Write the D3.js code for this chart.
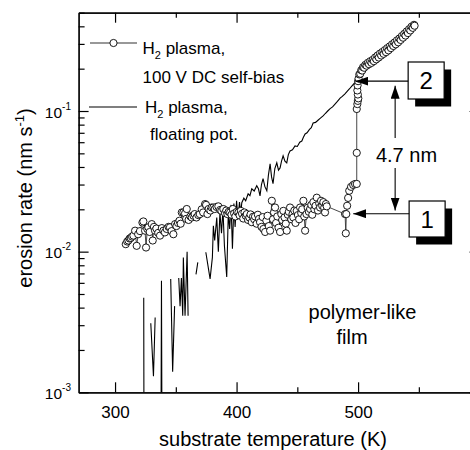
<!DOCTYPE html>
<html>
<head>
<meta charset="utf-8">
<script src="https://cdn.jsdelivr.net/npm/d3@7"></script>
<style>
html, body { margin: 0; padding: 0; background: #fff; }
svg { display: block; font-family: "Liberation Sans", Arial, sans-serif; }
</style>
</head>
<body>
<script>
'use strict';

// floating potential run (solid line), null marks a gap (rate <= 0, no log value)
const floatT = [
	323.6, 323.8, null,
	329.4, 331.6, 333.0, null,
	337.8, 338.2, 338.6, null,
	345.8, 347.4, 349.0, null,
	352.4, 353.5, 354.6, 355.7, 356.2, 357.6, 359.3, 360.1, null,
	366.6, 368.1, null,
	374.7, 378.2, 380.1, 380.9, 382.0, 383.7, 385.0, 386.3, 387.6, 388.8,
	390.0, 391.9, 393.2, 394.3, 395.5, 396.6, 397.8, 398.8, 400.0, 401.2,
	402.4, 403.5, 404.3, 406.0, 407.5, 409.5, 411.0, 412.5, 414.5, 416.6,
	418.0, 419.3, 420.5, 421.8, 423.3, 424.9, 426.2, 427.6, 428.8, 430.0,
	431.5, 433.1, 434.5, 435.8, 437.0, 438.3, 439.8, 441.3, 442.6, 444.0,
	446.0, 448.1, 450.0, 452.0, 453.7, 455.0, 456.4, 458.0, 460.0, 461.5,
	463.0, 465.0, 467.0, 469.0, 471.2, 473.0, 475.0, 477.0, 479.0, 481.0,
	483.0, 485.2, 487.0, 489.0, 491.0, 493.0, 495.0, 497.5, 500.0, 503.0,
	506.0, 509.0, 512.0, 515.0, 518.0, 521.0, 524.0, 527.0, 530.0, 533.0,
	536.0, 539.0, 542.0, 545.0
];
const floatRate = [
	0.0047, 0.0005, null,
	0.0031, 0.0013, 0.0034, null,
	0.0005, 0.0062, 0.0005, null,
	0.0064, 0.0014, 0.0041, null,
	0.0065, 0.0041, 0.0065, 0.0035, 0.0091, 0.0035, 0.0100, 0.0035, null,
	0.0069, 0.0084, null,
	0.0099, 0.0064, 0.0091, 0.0153, 0.0120, 0.0175, 0.0100, 0.0190, 0.0135, 0.0200,
	0.0110, 0.0066, 0.0190, 0.0145, 0.0215, 0.0105, 0.0220, 0.0150, 0.0230, 0.0170,
	0.0225, 0.0190, 0.0223, 0.0240, 0.0230, 0.0258, 0.0250, 0.0280, 0.0270, 0.0294,
	0.0280, 0.0249, 0.0300, 0.0330, 0.0290, 0.0271, 0.0350, 0.0421, 0.0340, 0.0304,
	0.0390, 0.0428, 0.0380, 0.0394, 0.0440, 0.0480, 0.0440, 0.0428, 0.0490, 0.0520,
	0.0530, 0.0565, 0.0560, 0.0600, 0.0612, 0.0650, 0.0687, 0.0700, 0.0740, 0.0760,
	0.0822, 0.0830, 0.0860, 0.0890, 0.0922, 0.0960, 0.1000, 0.1040, 0.1070, 0.1120,
	0.1170, 0.1236, 0.1270, 0.1320, 0.1380, 0.1440, 0.1510, 0.1600, 0.1700, 0.1850,
	0.2000, 0.2120, 0.2250, 0.2380, 0.2500, 0.2620, 0.2750, 0.2880, 0.3020, 0.3180,
	0.3350, 0.3520, 0.3720, 0.3950
];

// 100 V DC self-bias run (thin line + open circles)
const biasT = [
	308.8, 310.0, 311.0, 312.0, 312.9, 314.0, 315.1, 316.5, 317.8, 319.0,
	320.5, 322.5, 323.3, 324.7, 325.5, 326.5, 327.4, 328.5, 330.2, 331.0,
	332.0, 332.9, 334.0, 335.5, 337.0, 338.5, 339.8, 341.0, 342.5, 344.0,
	345.2, 346.5, 348.0, 349.4, 350.5, 351.8, 353.0, 354.0, 354.9, 356.2,
	357.6, 358.5, 359.0, 360.5, 362.0, 363.1, 364.5, 365.5, 367.0, 368.5,
	369.7, 371.3, 372.5, 374.1, 374.9, 376.0, 377.0, 378.5, 379.5, 380.9,
	382.0, 383.5, 385.0, 386.5, 387.5, 389.1, 390.5, 391.5, 392.5, 393.5,
	394.7, 395.8, 396.9, 398.0, 399.0, 400.2, 401.5, 402.5, 403.5, 404.5,
	405.5, 406.5, 407.5, 408.4, 409.5, 410.5, 411.5, 412.5, 413.5, 414.5,
	415.2, 416.5, 417.5, 418.5, 419.3, 420.5, 421.5, 422.1, 423.5, 424.5,
	425.5, 426.5, 427.6, 429.0, 430.0, 430.8, 431.7, 432.5, 433.5, 434.5,
	435.8, 436.8, 437.5, 438.5, 439.5, 440.5, 441.3, 442.2, 443.0, 444.0,
	445.0, 446.0, 446.7, 447.5, 448.5, 449.5, 450.5, 451.5, 452.3, 453.2,
	454.0, 455.0, 455.7, 456.4, 457.5, 458.5, 459.5, 460.5, 461.5, 462.3,
	463.2, 464.0, 465.0, 466.0, 467.0, 468.0, 468.7, 469.5, 470.5, 471.4,
	472.1, 472.8, 473.5, 474.2, 489.3, 489.9, 490.3, 491.0, 491.8, 492.7,
	494.2, 496.0, 497.5, 498.9, 498.9, 498.9, 499.4, 499.8, 500.2, 499.8,
	499.4, 499.6, 500.0, 500.4, 501.0, 501.8, 502.6, 503.4, 504.1, 505.0,
	506.0, 507.0, 508.0, 509.0, 510.0, 511.0, 512.0, 513.0, 514.0, 515.0,
	516.0, 517.0, 518.0, 519.0, 520.0, 521.0, 522.0, 523.0, 524.0, 525.0,
	526.0, 527.0, 528.0, 529.0, 530.0, 531.0, 532.0, 533.0, 534.0, 535.0,
	536.0, 537.0, 538.0, 539.0, 540.0, 541.0, 542.0, 543.0, 544.0, 545.0,
	546.0, 546.5
];
const biasRate = [
	0.0113, 0.0118, 0.0120, 0.0124, 0.0125, 0.0128, 0.0130, 0.0141, 0.0110, 0.0133,
	0.0140, 0.0161, 0.0164, 0.0141, 0.0107, 0.0145, 0.0149, 0.0138, 0.0157, 0.0120,
	0.0150, 0.0141, 0.0146, 0.0136, 0.0130, 0.0147, 0.0141, 0.0137, 0.0145, 0.0150,
	0.0149, 0.0140, 0.0133, 0.0157, 0.0152, 0.0160, 0.0166, 0.0158, 0.0190, 0.0190,
	0.0187, 0.0171, 0.0201, 0.0168, 0.0178, 0.0175, 0.0180, 0.0185, 0.0175, 0.0182,
	0.0185, 0.0200, 0.0190, 0.0218, 0.0215, 0.0185, 0.0201, 0.0196, 0.0206, 0.0206,
	0.0201, 0.0208, 0.0210, 0.0198, 0.0195, 0.0201, 0.0188, 0.0196, 0.0185, 0.0192,
	0.0190, 0.0183, 0.0201, 0.0187, 0.0178, 0.0192, 0.0190, 0.0181, 0.0195, 0.0186,
	0.0172, 0.0190, 0.0180, 0.0185, 0.0168, 0.0175, 0.0184, 0.0162, 0.0177, 0.0170,
	0.0178, 0.0158, 0.0183, 0.0171, 0.0162, 0.0150, 0.0176, 0.0145, 0.0138, 0.0166,
	0.0180, 0.0152, 0.0141, 0.0230, 0.0170, 0.0190, 0.0206, 0.0160, 0.0178, 0.0148,
	0.0138, 0.0185, 0.0168, 0.0195, 0.0175, 0.0158, 0.0141, 0.0183, 0.0192, 0.0206,
	0.0170, 0.0185, 0.0175, 0.0196, 0.0160, 0.0195, 0.0182, 0.0170, 0.0206, 0.0188,
	0.0200, 0.0230, 0.0178, 0.0141, 0.0185, 0.0205, 0.0192, 0.0201, 0.0215, 0.0183,
	0.0225, 0.0200, 0.0212, 0.0242, 0.0196, 0.0220, 0.0206, 0.0230, 0.0212, 0.0225,
	0.0205, 0.0190, 0.0218, 0.0210, 0.0185, 0.0135, 0.0185, 0.0212, 0.0241, 0.0271,
	0.0289, 0.0298, 0.0303, 0.0303, 0.0504, 0.1033, 0.1120, 0.1180, 0.1230, 0.1310,
	0.1400, 0.1520, 0.1630, 0.1700, 0.1820, 0.1840, 0.1950, 0.1940, 0.2050, 0.2030,
	0.2130, 0.2100, 0.2200, 0.2150, 0.2260, 0.2200, 0.2310, 0.2260, 0.2400, 0.2330,
	0.2480, 0.2400, 0.2560, 0.2480, 0.2630, 0.2550, 0.2710, 0.2620, 0.2800, 0.2700,
	0.2880, 0.2800, 0.2980, 0.2900, 0.3070, 0.2980, 0.3180, 0.3080, 0.3280, 0.3200,
	0.3410, 0.3320, 0.3540, 0.3440, 0.3680, 0.3580, 0.3820, 0.3740, 0.3980, 0.3900,
	0.4100, 0.4040
];

const xMajor = [300, 400, 500];
const xMinor = [350, 450, 550];
const yMajor = [1e-3, 1e-2, 1e-1];
const yExponents = ['-3', '-2', '-1'];

const WIDTH = 470, HEIGHT = 450;
const FONT = '"Liberation Sans", Arial, sans-serif';

let x = d3.scaleLinear().domain([270, 600]).range([78.6, 479.6]);
let y = d3.scaleLog().domain([1e-3, 0.5]).range([392.3, 12.7]);

let svg = d3.select('body').append('svg')
	.attr('width', WIDTH).attr('height', HEIGHT)
	.attr('viewBox', `0 0 ${WIDTH} ${HEIGHT}`);

let defs = svg.append('defs');
defs.append('clipPath').attr('id', 'plot-clip')
	.append('rect')
	.attr('x', x.range()[0]).attr('y', y.range()[1])
	.attr('width', x.range()[1] - x.range()[0])
	.attr('height', y.range()[0] - y.range()[1]);
defs.append('marker')
	.attr('id', 'head')
	.attr('markerUnits', 'userSpaceOnUse')
	.attr('markerWidth', 14).attr('markerHeight', 9)
	.attr('refX', 13).attr('refY', 4.5)
	.attr('orient', 'auto')
	.append('path').attr('d', 'M0,0 L13,4.5 L0,9 Z').attr('fill', '#000');

// data
let plot = svg.append('g').attr('clip-path', 'url(#plot-clip)');

let floatData = d3.zip(floatT, floatRate);
let biasData = d3.zip(biasT, biasRate);

let line = d3.line()
	.defined((d) => d[0] != null && d[1] != null)
	.x((d) => x(d[0]))
	.y((d) => y(d[1]));

plot.append('path')
	.datum(floatData)
	.attr('d', line)
	.attr('fill', 'none')
	.attr('stroke', '#000')
	.attr('stroke-width', 1.1);

plot.append('path')
	.datum(biasData)
	.attr('d', line)
	.attr('fill', 'none')
	.attr('stroke', '#333')
	.attr('stroke-width', 0.9);

plot.selectAll('circle.dot')
	.data(biasData)
	.enter()
	.append('circle')
	.attr('class', 'dot')
	.attr('cx', (d) => x(d[0]))
	.attr('cy', (d) => y(d[1]))
	.attr('r', 3.6)
	.attr('fill', '#fff')
	.attr('stroke', '#000')
	.attr('stroke-width', 0.9);

// axes (ticks point inward)
let allYTicks = y.ticks().filter((v) => v <= 0.5);
let yMinor = allYTicks.filter((v) => !yMajor.some((m) => Math.abs(m - v) / m < 1e-6));

function styleAxis(g) {
	g.selectAll('path, line').attr('stroke', '#000').attr('stroke-width', 1.2);
	g.selectAll('text').remove();
}

svg.append('g').attr('transform', `translate(0,${y.range()[0]})`)
	.call(d3.axisBottom(x).tickValues(xMinor).tickSizeInner(-5).tickSizeOuter(0).tickFormat(''))
	.call(styleAxis);
let xAxisG = svg.append('g').attr('transform', `translate(0,${y.range()[0]})`)
	.call(d3.axisBottom(x).tickValues(xMajor).tickSizeInner(-10).tickSizeOuter(0).tickPadding(14));
xAxisG.selectAll('path, line').attr('stroke', '#000').attr('stroke-width', 1.2);
xAxisG.selectAll('text').attr('font-family', FONT).attr('font-size', 17).attr('fill', '#000');

svg.append('g').attr('transform', `translate(0,${y.range()[1]})`)
	.call(d3.axisTop(x).tickValues(xMinor).tickSizeInner(-5).tickSizeOuter(0).tickFormat(''))
	.call(styleAxis);
svg.append('g').attr('transform', `translate(0,${y.range()[1]})`)
	.call(d3.axisTop(x).tickValues(xMajor).tickSizeInner(-10).tickSizeOuter(0).tickFormat(''))
	.call(styleAxis);

svg.append('g').attr('transform', `translate(${x.range()[0]},0)`)
	.call(d3.axisLeft(y).tickValues(yMinor).tickSizeInner(-6).tickSizeOuter(0).tickFormat(''))
	.call(styleAxis);
svg.append('g').attr('transform', `translate(${x.range()[0]},0)`)
	.call(d3.axisLeft(y).tickValues(yMajor).tickSizeInner(-10).tickSizeOuter(0).tickFormat(''))
	.call(styleAxis);
svg.append('g').attr('transform', `translate(${x.range()[1]},0)`)
	.call(d3.axisRight(y).tickValues(yMinor).tickSizeInner(-6).tickSizeOuter(0).tickFormat(''))
	.call(styleAxis);
svg.append('g').attr('transform', `translate(${x.range()[1]},0)`)
	.call(d3.axisRight(y).tickValues(yMajor).tickSizeInner(-10).tickSizeOuter(0).tickFormat(''))
	.call(styleAxis);

// y tick labels 10^n
let yLabels = svg.append('g').attr('font-family', FONT).attr('fill', '#000');
yMajor.forEach((v, i) => {
	let t = yLabels.append('text')
		.attr('x', 71).attr('y', y(v) + 6.5)
		.attr('text-anchor', 'end')
		.attr('font-size', 15.5);
	t.append('tspan').text('10');
	t.append('tspan').attr('font-size', 10).attr('dy', -8).text(yExponents[i]);
});

// axis titles
svg.append('text')
	.attr('x', 273).attr('y', 446)
	.attr('text-anchor', 'middle')
	.attr('font-family', FONT).attr('font-size', 20)
	.text('substrate temperature (K)');

let yTitle = svg.append('text')
	.attr('transform', 'translate(32,198) rotate(-90)')
	.attr('text-anchor', 'middle')
	.attr('font-family', FONT).attr('font-size', 20);
yTitle.append('tspan').text('erosion rate (nm s');
yTitle.append('tspan').attr('font-size', 13).attr('dy', -8).text('-1');
yTitle.append('tspan').attr('dy', 8).text(')');

// legend
let legend = svg.append('g').attr('font-family', FONT).attr('font-size', 17);
legend.append('line').attr('x1', 90).attr('x2', 137).attr('y1', 43).attr('y2', 43)
	.attr('stroke', '#333').attr('stroke-width', 1.1);
legend.append('circle').attr('cx', 113.5).attr('cy', 43).attr('r', 3.6)
	.attr('fill', '#fff').attr('stroke', '#000').attr('stroke-width', 0.9);
legend.append('line').attr('x1', 89).attr('x2', 137).attr('y1', 107).attr('y2', 107)
	.attr('stroke', '#000').attr('stroke-width', 1.1);

function h2Text(g, tx, ty) {
	let t = g.append('text').attr('x', tx).attr('y', ty);
	t.append('tspan').text('H');
	t.append('tspan').attr('font-size', 11).attr('dy', 5).text('2');
	t.append('tspan').attr('dy', -5).text(' plasma,');
	return t;
}
h2Text(legend, 142.5, 54);
legend.append('text').attr('x', 142.5).attr('y', 83).text('100 V DC self-bias');
h2Text(legend, 145, 112.5);
legend.append('text').attr('x', 150, 0).attr('y', 140).text('floating pot.');

// annotations
let notes = svg.append('g').attr('font-family', FONT);
const markers = [
	{ label: '2', tip: [497.8, 0.163], from: 541.2, boxTop: 62, boxH: 37 },
	{ label: '1', tip: [496.0, 0.0186], from: 542.0, boxTop: 201, boxH: 36 }
];
markers.forEach((m) => {
	let bx = x(m.from), by = m.boxTop;
	notes.append('rect').attr('x', bx + 7).attr('y', by + 7.5).attr('width', 36).attr('height', m.boxH)
		.attr('fill', '#000');
	notes.append('rect').attr('x', bx).attr('y', by).attr('width', 36).attr('height', m.boxH)
		.attr('fill', '#fff').attr('stroke', '#000').attr('stroke-width', 1.2);
	notes.append('text').attr('x', bx + 18).attr('y', by + m.boxH / 2 + 8.5)
		.attr('text-anchor', 'middle').attr('font-size', 24).text(m.label);
	notes.append('line')
		.attr('x1', bx).attr('y1', y(m.tip[1]))
		.attr('x2', x(m.tip[0])).attr('y2', y(m.tip[1]))
		.attr('stroke', '#000').attr('stroke-width', 1.1)
		.attr('marker-end', 'url(#head)');
});

// 4.7 nm double arrow
const gapT = 530.5;
notes.append('line')
	.attr('x1', x(gapT)).attr('x2', x(gapT)).attr('y1', 138).attr('y2', y(0.151))
	.attr('stroke', '#000').attr('stroke-width', 1.1).attr('marker-end', 'url(#head)');
notes.append('line')
	.attr('x1', x(gapT)).attr('x2', x(gapT)).attr('y1', 168).attr('y2', y(0.0196))
	.attr('stroke', '#000').attr('stroke-width', 1.1).attr('marker-end', 'url(#head)');
notes.append('text').attr('x', 406.5).attr('y', 162).attr('text-anchor', 'middle')
	.attr('font-size', 20).text('4.7 nm');

notes.append('text').attr('x', 362.5).attr('y', 319).attr('text-anchor', 'middle')
	.attr('font-size', 20).text('polymer-like');
notes.append('text').attr('x', 352).attr('y', 344).attr('text-anchor', 'middle')
	.attr('font-size', 20).text('film');
</script>
</body>
</html>
